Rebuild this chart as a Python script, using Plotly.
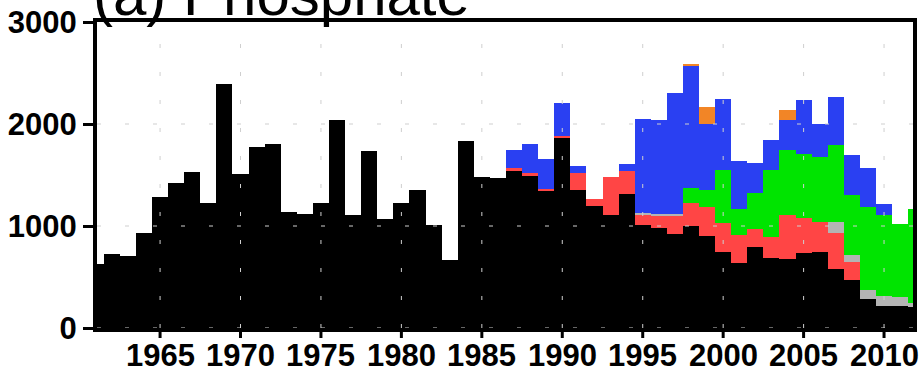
import plotly.graph_objects as go

years = list(range(1961, 2013))

black = [628, 726, 710, 928, 1287, 1424, 1528, 1222, 2395, 1508,
         1775, 1802, 1140, 1114, 1222, 2036, 1107, 1736, 1068, 1228,
         1352, 1010, 668, 1834, 1476, 1470, 1540, 1490, 1345, 1860,
         1352, 1196, 1107, 1313, 1010, 984, 925, 1000, 905, 745,
         635, 792, 684, 675, 739, 749, 577, 472, 288, 218,
         211, 205]
red = [0, 0, 0, 0, 0, 0, 0, 0, 0, 0,
       0, 0, 0, 0, 0, 0, 0, 0, 0, 0,
       0, 0, 0, 0, 0, 0, 25, 25, 20, 20,
       170, 65, 370, 225, 105, 114, 175, 222, 285, 281,
       272, 176, 212, 432, 336, 293, 351, 179, 0, 0,
       0, 0]
gray = [0, 0, 0, 0, 0, 0, 0, 0, 0, 0,
        0, 0, 0, 0, 0, 0, 0, 0, 0, 0,
        0, 0, 0, 0, 0, 0, 0, 0, 0, 0,
        0, 0, 0, 0, 15, 15, 15, 0, 0, 0,
        0, 0, 0, 0, 0, 0, 114, 66, 86, 91,
        92, 39]
green = [0, 0, 0, 0, 0, 0, 0, 0, 0, 0,
         0, 0, 0, 0, 0, 0, 0, 0, 0, 0,
         0, 0, 0, 0, 0, 0, 0, 0, 0, 0,
         0, 0, 0, 0, 0, 0, 0, 150, 162, 521,
         258, 358, 651, 643, 629, 635, 750, 586, 815, 798,
         717, 922]
blue = [0, 0, 0, 0, 0, 0, 0, 0, 0, 0,
        0, 0, 0, 0, 0, 0, 0, 0, 0, 0,
        0, 0, 0, 0, 0, 0, 180, 287, 293, 325,
        65, 0, 0, 70, 920, 925, 1190, 1192, 652, 701,
        473, 287, 294, 286, 534, 327, 472, 391, 375, 108,
        0, 0]
orange = [0, 0, 0, 0, 0, 0, 0, 0, 0, 0,
          0, 0, 0, 0, 0, 0, 0, 0, 0, 0,
          0, 0, 0, 0, 0, 0, 0, 0, 0, 0,
          0, 0, 0, 0, 0, 0, 0, 26, 162, 0,
          0, 0, 0, 105, 0, 0, 0, 0, 0, 0,
          0, 0]

series = [
    ("black", black, "#000000"),
    ("red", red, "#ff4545"),
    ("gray", gray, "#b4b4b4"),
    ("green", green, "#00e400"),
    ("blue", blue, "#2a40f2"),
    ("orange", orange, "#f28526"),
]

x_ticks = [1965, 1970, 1975, 1980, 1985, 1990, 1995, 2000, 2005, 2010]
x_ticktext = ["1965", "1970", "1975", "1980", "1985", "1990", "1995", "2000", "2005", "2010"]
y_ticks = [0, 1000, 2000, 3000]
title_text = "(a) Phosphate"

fig = go.Figure()
for name, vals, col in series:
    fig.add_trace(go.Bar(x=years, y=vals, name=name, width=1.0,
                         marker=dict(color=col, line=dict(width=0)),
                         showlegend=False))

grid_style = dict(color="#cfcfcf", width=1, dash="4px,24px")
tick_font = dict(family="Liberation Sans", size=31, color="#000000", weight="bold")

shapes = []
annotations = []
for xv, lab in zip(x_ticks, x_ticktext):
    shapes.append(dict(type="line", xref="x", yref="y", x0=xv, x1=xv,
                       y0=0, y1=3000, layer="above", line=grid_style))
    # outside tick mark below the bottom frame
    shapes.append(dict(type="line", xref="x", yref="paper", x0=xv, x1=xv,
                       ysizemode="pixel", yanchor=0, y0=0, y1=-10,
                       layer="above", line=dict(color="black", width=3)))
    annotations.append(dict(text=lab, xref="x", yref="paper", x=xv, y=0,
                            xanchor="center", yanchor="top", yshift=-8,
                            showarrow=False, font=tick_font))
for yv in y_ticks[:-1]:
    shapes.append(dict(type="line", xref="paper", yref="y", x0=0, x1=1,
                       y0=yv, y1=yv, layer="above", line=grid_style))

annotations.append(dict(text=title_text, xref="paper", yref="paper",
                        x=0, y=1, xanchor="left", yanchor="bottom",
                        xshift=-6, yshift=-8, showarrow=False,
                        font=dict(family="Liberation Sans", size=60, color="black")))

fig.update_layout(
    template="none",
    width=922, height=374,
    margin=dict(l=97, r=9, t=22, b=46, pad=0),
    paper_bgcolor="white", plot_bgcolor="white",
    barmode="stack", bargap=0,
    shapes=shapes,
    annotations=annotations,
    xaxis=dict(range=[1961.08, 2011.8], automargin=False,
               ticks="", showticklabels=False,
               showline=True, linewidth=4, linecolor="black", mirror=True,
               showgrid=False, zeroline=False, layer="above traces"),
    yaxis=dict(range=[0, 3000], tickmode="array", tickvals=y_ticks,
               automargin=False,
               ticks="outside", ticklen=10, tickwidth=3, tickcolor="black",
               showline=True, linewidth=4, linecolor="black", mirror=True,
               showgrid=False, zeroline=False, tickfont=tick_font,
               ticklabelstandoff=0, layer="above traces"),
)

fig.write_html("out.html")
